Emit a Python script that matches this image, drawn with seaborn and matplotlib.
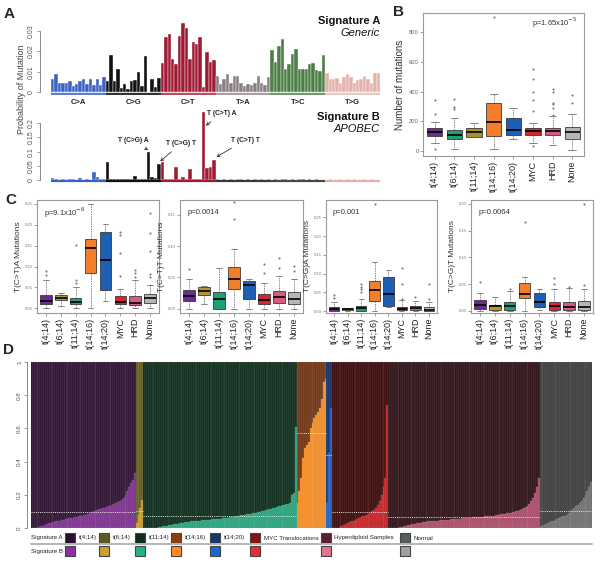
import numpy as np
import pandas as pd
import matplotlib
matplotlib.use("Agg")
import matplotlib.pyplot as plt
import seaborn as sns
from matplotlib.patches import Rectangle

# ---------------- Panel A data ----------------
MUT_CLASSES = ["C>A", "C>G", "C>T", "T>A", "T>C", "T>G"]
MUT_COLORS = ["#3a62c4", "#111111", "#9e1b32", "#8a7e84", "#4b7d46", "#e3b2aa"]
STRIP_B_COLORS = ["#3a62c4", "#111111", "#9e1b32", "#3a3a3a", "#454a45", "#e3b2aa"]

SIG_A_CA = [0.0065, 0.009, 0.0045, 0.0045, 0.0045, 0.0055, 0.003, 0.004, 0.0055, 0.0065, 0.004, 0.0065, 0.0035, 0.0065, 0.0035, 0.0072]
SIG_A_CG = [0.0055, 0.018, 0.0055, 0.0113, 0.0022, 0.0037, 0.0015, 0.0056, 0.006, 0.0097, 0.003, 0.0178, 0.0002, 0.0062, 0.0026, 0.007]
SIG_A_CT = [0.0145, 0.0272, 0.0285, 0.0163, 0.014, 0.0275, 0.034, 0.0318, 0.0163, 0.0248, 0.0235, 0.0272, 0.0025, 0.0196, 0.015, 0.0158]
SIG_A_TA = [0.0077, 0.004, 0.0064, 0.009, 0.0044, 0.0077, 0.0077, 0.0044, 0.0028, 0.004, 0.0036, 0.0044, 0.0077, 0.0044, 0.0036, 0.0073]
SIG_A_TC = [0.0207, 0.015, 0.0227, 0.026, 0.0113, 0.0139, 0.0188, 0.0212, 0.0113, 0.0113, 0.0113, 0.0137, 0.0142, 0.011, 0.0104, 0.0183]
SIG_A_TG = [0.0093, 0.0065, 0.0065, 0.0068, 0.0044, 0.0072, 0.009, 0.0073, 0.0044, 0.006, 0.0065, 0.0077, 0.0065, 0.0044, 0.0093, 0.0093]

SIG_B_CA = [0.006, 0.002, 0.001, 0.002, 0.001, 0.002, 0.003, 0.001, 0.007, 0.001, 0.002, 0.001, 0.027, 0.012, 0.004, 0.005]
SIG_B_CG = [0.062, 0.003, 0.002, 0.004, 0.005, 0.004, 0.002, 0.002, 0.013, 0.004, 0.003, 0.002, 0.1, 0.01, 0.008, 0.058]
SIG_B_CT = [0.065, 0.005, 0.003, 0.005, 0.047, 0.004, 0.012, 0.004, 0.038, 0.003, 0.002, 0.004, 0.24, 0.042, 0.045, 0.07]
SIG_B_TA = [0.002, 0.001, 0.003, 0.001, 0.002, 0.001, 0.002, 0.003, 0.001, 0.002, 0.001, 0.002, 0.001, 0.003, 0.001, 0.002]
SIG_B_TC = [0.001, 0.002, 0.001, 0.003, 0.002, 0.001, 0.002, 0.001, 0.002, 0.003, 0.001, 0.002, 0.001, 0.002, 0.001, 0.001]
SIG_B_TG = [0.001, 0.002, 0.001, 0.001, 0.002, 0.001, 0.003, 0.001, 0.002, 0.001, 0.001, 0.002, 0.001, 0.003, 0.001, 0.001]

# annotations: (label, class, index within class)
SIG_B_NOTES = [("T (C>G) A", "C>G", 12), ("T (C>G) T", "C>G", 15),
               ("T (C>T) A", "C>T", 12), ("T (C>T) T", "C>T", 15)]

# ---------------- Panel B / C data ----------------
GROUPS = ["t(4;14)", "t(6;14)", "t(11;14)", "t(14;16)", "t(14;20)", "MYC", "HRD", "None"]
C_COLORS = ["#6a2c8e", "#b8962e", "#1f9e78", "#f47f2a", "#1c5fb5", "#d9262e", "#d65c7e", "#b5b5b5"]
B_COLORS = ["#6a2c8e", "#1f9e78", "#a8902e", "#f47f2a", "#1c5fb5", "#d9262e", "#d65c7e", "#b5b5b5"]

# box values: [lower whisker, q1, median, q3, upper whisker]; outliers separate
B_BOX = {"t(4;14)": [50, 99, 124, 151, 192], "t(6;14)": [9, 79, 106, 140, 221],
         "t(11;14)": [90, 95, 126, 153, 185], "t(14;16)": [9, 99, 194, 320, 381],
         "t(14;20)": [83, 106, 140, 219, 286], "MYC": [56, 110, 133, 151, 185],
         "HRD": [38, 106, 133, 155, 234], "None": [5, 83, 124, 162, 248]}
B_OUT = {"t(4;14)": [9, 248, 343], "t(6;14)": [279, 293, 347], "t(11;14)": [],
         "t(14;16)": [901], "t(14;20)": [], "MYC": [34, 270, 343, 394, 485, 552],
         "HRD": [241, 286, 315, 320, 399, 415], "None": [322, 378]}

C1_BOX = {"t(4;14)": [0, 0.0096, 0.018, 0.032, 0.068], "t(6;14)": [0.006, 0.02, 0.026, 0.032, 0.036],
          "t(11;14)": [0, 0.010, 0.016, 0.026, 0.05], "t(14;16)": [0, 0.084, 0.144, 0.166, 0.25],
          "t(14;20)": [0.018, 0.044, 0.116, 0.182, 0.202], "MYC": [0, 0.0096, 0.016, 0.029, 0.046],
          "HRD": [0, 0.008, 0.014, 0.029, 0.068], "None": [0, 0.012, 0.025, 0.034, 0.055]}
C1_OUT = {"t(4;14)": [0.08, 0.09], "t(6;14)": [], "t(11;14)": [0.06, 0.068, 0.152],
          "t(14;16)": [], "t(14;20)": [], "MYC": [0.078, 0.132, 0.176, 0.182],
          "HRD": [0.076, 0.084, 0.092], "None": [0.076, 0.082, 0.136, 0.18, 0.228]}

C2_BOX = {"t(4;14)": [0, 0.0118, 0.02, 0.0296, 0.048], "t(6;14)": [0.008, 0.0215, 0.028, 0.034, 0.036],
          "t(11;14)": [0, 0.0, 0.015, 0.027, 0.0645], "t(14;16)": [0, 0.032, 0.048, 0.066, 0.095],
          "t(14;20)": [0, 0.015, 0.0377, 0.044, 0.047], "MYC": [0, 0.008, 0.0145, 0.024, 0.041],
          "HRD": [0, 0.009, 0.019, 0.028, 0.052], "None": [0, 0.008, 0.015, 0.026, 0.047]}
C2_OUT = {"t(4;14)": [0.063], "t(6;14)": [], "t(11;14)": [], "t(14;16)": [0.1436, 0.17],
          "t(14;20)": [], "MYC": [0.0565, 0.071], "HRD": [0.0645, 0.081], "None": [0.06, 0.068]}

C3_BOX = {"t(4;14)": [0, 0.001, 0.0064, 0.012, 0.025], "t(6;14)": [0, 0.003, 0.0046, 0.008, 0.009],
          "t(11;14)": [0, 0.0, 0.0073, 0.013, 0.032], "t(14;16)": [0, 0.0257, 0.055, 0.08, 0.131],
          "t(14;20)": [0.012, 0.0138, 0.046, 0.091, 0.11], "MYC": [0, 0.002, 0.0064, 0.011, 0.03],
          "HRD": [0, 0.002, 0.0073, 0.0138, 0.0266], "None": [0, 0.0, 0.002, 0.01, 0.023]}
C3_OUT = {"t(4;14)": [0.035, 0.043], "t(6;14)": [], "t(11;14)": [0.05, 0.058, 0.065, 0.073],
          "t(14;16)": [0.286], "t(14;20)": [], "MYC": [0.032, 0.0715, 0.115],
          "HRD": [0.0367], "None": [0.032, 0.073]}

C4_BOX = {"t(4;14)": [0, 0.0032, 0.011, 0.0199, 0.034], "t(6;14)": [0, 0.0013, 0.0096, 0.0115, 0.026],
          "t(11;14)": [0, 0.0013, 0.0096, 0.016, 0.0365], "t(14;16)": [0, 0.0237, 0.032, 0.0526, 0.064],
          "t(14;20)": [0.0013, 0.0064, 0.016, 0.034, 0.0417], "MYC": [0, 0.0013, 0.0083, 0.0173, 0.04],
          "HRD": [0, 0.002, 0.0077, 0.016, 0.0436], "None": [0, 0.0013, 0.0077, 0.018, 0.04]}
C4_OUT = {"t(4;14)": [0.0545], "t(6;14)": [], "t(11;14)": [0.04], "t(14;16)": [0.1667],
          "t(14;20)": [], "MYC": [0.05, 0.061], "HRD": [0.045], "None": [0.048, 0.2]}

C_LABELS = ["T(C>T)A Mutations", "T(C>T)T Mutations", "T(C>G)A Mutations", "T(C>G)T Mutations"]
C_PVALS = [r"p=9.1x10$^{-6}$", "p=0.0014", "p=0.001", "p=0.0064"]
C_TICKS = [[0, 0.05, 0.10, 0.15, 0.20, 0.25], [0, 0.05, 0.10, 0.15],
           [0, 0.05, 0.10, 0.15, 0.20, 0.25], [0, 0.05, 0.10, 0.15, 0.20]]
C_YLIMS = [(-0.011, 0.259), (-0.007, 0.174), (-0.005, 0.296), (-0.004, 0.207)]

# ---------------- Panel D data ----------------
D_GROUPS = ["t(4;14)", "t(6;14)", "t(11;14)", "t(14;16)", "t(14;20)", "MYC", "HRD", "Normal"]
D_LEG_LABELS = ["t(4;14)", "t(6;14)", "t(11;14)", "t(14;16)", "t(14;20)",
                "MYC Translocations", "Hyperdiploid Samples", "Normal"]
D_DARK = ["#2d1030", "#5e5a1c", "#0b2a19", "#6e3310", "#0f2f66", "#3a0707", "#2c0f14", "#3b3b3b"]
D_LIGHT = ["#7b2f8c", "#c59a2a", "#25a07a", "#f08a22", "#1d5fc4", "#c41f24", "#a84a68", "#6e6e6e"]
LEG_A = ["#2a0f2e", "#5b5b20", "#0e2e1c", "#8a4012", "#17366a", "#8b0f14", "#5a2030", "#555f5a"]
LEG_B = ["#8e2ea5", "#c9a12d", "#1fb386", "#ff8a2a", "#1b66d6", "#e82c2c", "#e8718e", "#a0a0a0"]

D_B_T414 = [0.0, 0.0, 0.0, 0.0, 0.005, 0.01, 0.015, 0.02, 0.025, 0.03, 0.032, 0.035, 0.038, 0.04,
            0.043, 0.045, 0.048, 0.05, 0.052, 0.055, 0.058, 0.06, 0.062, 0.065, 0.068, 0.07, 0.072,
            0.075, 0.078, 0.08, 0.085, 0.09, 0.095, 0.1, 0.105, 0.11, 0.112, 0.115, 0.118, 0.12,
            0.125, 0.13, 0.135, 0.14, 0.145, 0.15, 0.155, 0.16, 0.17, 0.18, 0.2, 0.22, 0.25, 0.27,
            0.29, 0.33]
D_B_T614 = [0.03, 0.08, 0.12, 0.17]
D_B_T1114 = [0.0, 0.0, 0.0, 0.0, 0.0, 0.0, 0.0, 0.0,
             0.005, 0.008, 0.01, 0.012, 0.014, 0.016, 0.018, 0.02, 0.022, 0.024,
             0.026, 0.028, 0.03, 0.032, 0.034, 0.036, 0.038, 0.04, 0.041, 0.042,
             0.043, 0.044, 0.045, 0.046, 0.047, 0.048, 0.05, 0.051, 0.052, 0.053,
             0.054, 0.055, 0.056, 0.057, 0.058, 0.06, 0.061, 0.062, 0.064, 0.066,
             0.068, 0.07, 0.072, 0.074, 0.076, 0.078, 0.08, 0.082, 0.084, 0.086,
             0.088, 0.09, 0.092, 0.095, 0.098, 0.1, 0.103, 0.106, 0.11, 0.113,
             0.116, 0.12, 0.123, 0.126, 0.13, 0.133, 0.136, 0.14, 0.143, 0.146,
             0.15, 0.2, 0.21, 0.61]
D_B_T1416 = [0.15, 0.22, 0.3, 0.42, 0.48, 0.5, 0.52, 0.6, 0.63, 0.66, 0.68, 0.7, 0.72, 0.78, 0.88, 0.9]
D_B_T1420 = [0.15, 0.45, 0.72]
D_B_MYC = [0.0, 0.0, 0.0, 0.0, 0.01, 0.015, 0.02, 0.025, 0.03, 0.035, 0.04, 0.045, 0.05, 0.055,
           0.06, 0.065, 0.07, 0.075, 0.08, 0.085, 0.09, 0.1, 0.11, 0.12, 0.14, 0.16, 0.2, 0.25,
           0.3, 0.74]
D_B_HRD = [0.0, 0.0, 0.0, 0.0, 0.0, 0.0,
           0.004, 0.008, 0.011, 0.014, 0.017, 0.02, 0.022, 0.024, 0.026, 0.028,
           0.03, 0.032, 0.034, 0.036, 0.038, 0.04, 0.041, 0.042, 0.043, 0.044,
           0.045, 0.046, 0.047, 0.048, 0.049, 0.05, 0.051, 0.052, 0.053, 0.054,
           0.055, 0.056, 0.057, 0.058, 0.059, 0.06, 0.061, 0.062, 0.063, 0.064,
           0.065, 0.066, 0.067, 0.068, 0.069, 0.07, 0.071, 0.072, 0.073, 0.074,
           0.075, 0.076, 0.078, 0.08, 0.082, 0.084, 0.086, 0.088, 0.09, 0.092,
           0.095, 0.098, 0.1, 0.104, 0.108, 0.112, 0.118, 0.125, 0.135, 0.145,
           0.16, 0.18, 0.21, 0.25, 0.3]
D_B_NORMAL = [0.01, 0.015, 0.02, 0.025, 0.03, 0.035, 0.04, 0.045, 0.05, 0.055, 0.06, 0.065, 0.07,
              0.075, 0.08, 0.09, 0.1, 0.11, 0.12, 0.13, 0.14, 0.15, 0.16, 0.18, 0.2, 0.22, 0.25, 0.28]

# ---------------- style ----------------
sns.set_style("white")
plt.rcParams["font.family"] = ["Liberation Sans", "DejaVu Sans"]
plt.rcParams["axes.linewidth"] = 0.6

W, H = 600, 568
fig = plt.figure(figsize=(6, 5.68), dpi=100)


def px_rect(x0, y0, x1, y1):
    return [x0 / W, 1 - y1 / H, (x1 - x0) / W, (y1 - y0) / H]


# ---------------- Panel A ----------------
def sig_panel(rect, groups_vals, ylim, ticks, ticklabels, strip_colors, strip_y, strip_lw):
    ax = fig.add_axes(px_rect(*rect))
    vals = [v for g in groups_vals for v in g]
    df = pd.DataFrame({"pos": np.arange(len(vals)), "val": vals,
                       "cls": np.repeat(MUT_CLASSES, 16)})
    sns.barplot(data=df, x="pos", y="val", hue="cls", hue_order=MUT_CLASSES,
                palette=dict(zip(MUT_CLASSES, MUT_COLORS)), dodge=False, width=1.0,
                edgecolor="white", linewidth=0.28, saturation=1, errorbar=None,
                legend=False, ax=ax)
    for i, c in enumerate(strip_colors):
        ax.hlines(strip_y, i * 16 - 0.5, i * 16 + 15.5, colors=c, lw=strip_lw)
    ax.set_xlim(-0.5, 95.5)
    ax.set_ylim(*ylim)
    for s in ["top", "right", "bottom"]:
        ax.spines[s].set_visible(False)
    ax.spines["left"].set_position(("outward", 8))
    ax.spines["left"].set_bounds(ticks[0], ticks[-1])
    ax.spines["left"].set_color("#777777")
    ax.set_xticks([])
    ax.set_yticks(ticks)
    ax.set_yticklabels(ticklabels, rotation=90, va="center", fontsize=5, color="#555555")
    ax.tick_params(axis="y", length=2, width=0.5, color="#777777", pad=1.5, left=True)
    ax.set_xlabel("")
    ax.set_ylabel("")
    return ax


axA1 = sig_panel((51, 19, 380, 95), [SIG_A_CA, SIG_A_CG, SIG_A_CT, SIG_A_TA, SIG_A_TC, SIG_A_TG],
                 (-0.0015, 0.036), [0, 0.01, 0.02, 0.03], ["0", "0.01", "0.02", "0.03"],
                 ["#5b7fd0", "#333333", "#c24a5e", "#a89ea3", "#6f9a6a", "#ecc6c0"], -0.0008, 1.7)
for i, cls in enumerate(MUT_CLASSES):
    axA1.text(i * 16 + 7.5, -0.1, cls, transform=axA1.get_xaxis_transform(),
              ha="center", va="center", fontsize=5.5, fontweight="bold", color="#222222")
axA1.text(1.0, 0.98, "Signature A", transform=axA1.transAxes, ha="right", va="center",
          fontsize=8, fontweight="bold", color="#111111")
axA1.text(1.0, 0.82, "Generic", transform=axA1.transAxes, ha="right", va="center",
          fontsize=8, style="italic", color="#111111")

axA2 = sig_panel((51, 108, 380, 183), [SIG_B_CA, SIG_B_CG, SIG_B_CT, SIG_B_TA, SIG_B_TC, SIG_B_TG],
                 (-0.0106, 0.254), [0, 0.05, 0.1, 0.15, 0.2], ["0", "0.05", "0.1", "0.15", "0.2"],
                 STRIP_B_COLORS, -0.0045, 1.6)
axA2.text(1.0, 0.88, "Signature B", transform=axA2.transAxes, ha="right", va="center",
          fontsize=8, fontweight="bold", color="#111111")
axA2.text(1.0, 0.72, "APOBEC", transform=axA2.transAxes, ha="right", va="center",
          fontsize=8, style="italic", color="#111111")
note_text_pos = {"T (C>G) A": (23.4, 0.141, 28.0, 0.104),
                 "T (C>G) T": (37.5, 0.13, 31.2, 0.064),
                 "T (C>T) A": (49.3, 0.236, 44.5, 0.19),
                 "T (C>T) T": (56.2, 0.141, 47.6, 0.08)}
for lab, cls, idx in SIG_B_NOTES:
    tx, ty, ax_, ay_ = note_text_pos[lab]
    axA2.annotate(lab, xy=(ax_, ay_), xytext=(tx, ty), ha="center", va="center",
                  fontsize=4.8, fontweight="bold", color="#222222",
                  arrowprops=dict(arrowstyle="->", lw=0.6, color="#333333",
                                  shrinkA=2, shrinkB=0.5))
fig.text(21 / W, 1 - 89 / H, "Probability of Mutation", rotation=90, ha="center", va="center",
         fontsize=6.5, color="#444444")


# ---------------- Box plot helper ----------------
def box_panel(rect, box, out, colors, ylim):
    ax = fig.add_axes(px_rect(*rect))
    df = pd.DataFrame([(g, v) for g in GROUPS for v in box[g]], columns=["group", "value"])
    sns.boxplot(data=df, x="group", y="value", hue="group", order=GROUPS, hue_order=GROUPS,
                palette=dict(zip(GROUPS, colors)), whis=(0, 100), width=0.78, saturation=1,
                linewidth=0.6, linecolor="#3a3a3a", showfliers=False, legend=False, ax=ax,
                medianprops=dict(color="black", linewidth=1.2),
                whiskerprops=dict(linestyle=(0, (2, 1.5)), color="#555555", linewidth=0.5),
                capprops=dict(color="#555555", linewidth=0.5))
    od = pd.DataFrame([(g, v) for g in GROUPS for v in out[g]], columns=["group", "value"])
    sns.stripplot(data=od, x="group", y="value", order=GROUPS, jitter=False,
                  color="#777777", size=1.5, ax=ax)
    ax.set_ylim(*ylim)
    ax.set_xlim(-0.6, 7.6)
    for s in ax.spines.values():
        s.set_visible(True)
        s.set_color("#9a9a9a")
        s.set_linewidth(0.8)
    ax.set_xlabel("")
    ax.set_xticks(range(len(GROUPS)))
    ax.set_xticklabels(GROUPS, rotation=90, fontsize=6.5, color="#222222")
    ax.tick_params(axis="x", length=2, width=0.5, color="#777777", pad=1.5, bottom=True)
    ax.tick_params(axis="y", length=2, width=0.5, color="#777777", pad=1, left=True)
    return ax


# ---------------- Panel B ----------------
axB = box_panel((423, 13, 584, 156), B_BOX, B_OUT, B_COLORS, (-35, 930))
axB.set_yticks([0, 200, 400, 600, 800])
axB.set_yticklabels(["0", "200", "400", "600", "800"], fontsize=4.2, color="#666666")
axB.set_ylabel("Number of mutations", fontsize=7, color="#333333", labelpad=3)
axB.text(0.82, 0.93, r"p=1.65x10$^{-5}$", transform=axB.transAxes, ha="center", va="center",
         fontsize=5.5, color="#333333")

# ---------------- Panel C ----------------
C_RECTS = [(37, 200, 159, 313), (180, 200, 303, 313), (326, 200, 437, 313), (471, 200, 593, 313)]
C_DATA = [(C1_BOX, C1_OUT), (C2_BOX, C2_OUT), (C3_BOX, C3_OUT), (C4_BOX, C4_OUT)]
for rect, (bx, ot), lab, pv, tks, yl in zip(C_RECTS, C_DATA, C_LABELS, C_PVALS, C_TICKS, C_YLIMS):
    ax = box_panel(rect, bx, ot, C_COLORS, yl)
    ax.set_yticks(tks)
    ax.set_yticklabels([f"{t:.2f}" for t in tks], fontsize=3, color="#777777")
    ax.set_ylabel(lab, fontsize=6, color="#333333", labelpad=2)
    ax.text(0.06, 0.89, pv, transform=ax.transAxes, ha="left", va="center",
            fontsize=5.5, color="#333333")

# ---------------- Panel D ----------------
d_vals = [D_B_T414, D_B_T614, D_B_T1114, D_B_T1416, D_B_T1420, D_B_MYC, D_B_HRD, D_B_NORMAL]
rows = []
pos = 0
for g, vals in zip(D_GROUPS, d_vals):
    for v in vals:
        rows.append((pos, g, v, 1.0))
        pos += 1
dfd = pd.DataFrame(rows, columns=["pos", "group", "b", "total"])
axD = fig.add_axes(px_rect(31, 362, 592, 528))
sns.barplot(data=dfd, x="pos", y="total", hue="group", hue_order=D_GROUPS,
            palette=dict(zip(D_GROUPS, D_DARK)), dodge=False, width=1.0, saturation=1,
            edgecolor=(1, 1, 1, 0.22), linewidth=0.3, errorbar=None, legend=False, ax=axD)
sns.barplot(data=dfd, x="pos", y="b", hue="group", hue_order=D_GROUPS,
            palette=dict(zip(D_GROUPS, D_LIGHT)), dodge=False, width=1.0, saturation=1,
            edgecolor=(1, 1, 1, 0.22), linewidth=0.3, errorbar=None, legend=False, ax=axD)
start = 0
for g, vals in zip(D_GROUPS, d_vals):
    axD.hlines(np.mean(vals), start - 0.5, start + len(vals) - 0.5, colors="#e8e8e8",
               linestyles=(0, (1, 1.2)), lw=0.7)
    start += len(vals)
axD.set_xlim(-0.5, len(dfd) - 0.5)
axD.set_ylim(0, 1)
for s in ["top", "right", "bottom"]:
    axD.spines[s].set_visible(False)
axD.spines["left"].set_position(("outward", 3))
axD.spines["left"].set_color("#777777")
axD.set_xticks([])
axD.set_yticks([0, 0.2, 0.4, 0.6, 0.8, 1])
axD.set_yticklabels(["0", "0.2", "0.4", "0.6", "0.8", "1"], rotation=90, va="center",
                    fontsize=4.5, color="#555555")
axD.tick_params(axis="y", length=2, width=0.5, color="#777777", pad=1.5, left=True)
axD.set_xlabel("")
axD.set_ylabel("")

# legend for D
axL = fig.add_axes(px_rect(0, 528, 600, 568))
axL.set_xlim(0, 600)
axL.set_ylim(568, 528)
axL.axis("off")
LEG_X = [65, 99, 135, 171, 210, 250, 321, 400]
axL.plot([31, 592], [543.5, 543.5], color="#b5b5b5", lw=1.4)
axL.text(31, 538, "Signature A", fontsize=4.4, va="center", ha="left", color="#222222")
axL.text(31, 551, "Signature B", fontsize=4.4, va="center", ha="left", color="#222222")
for x, la, ca, cb in zip(LEG_X, D_LEG_LABELS, LEG_A, LEG_B):
    axL.add_patch(Rectangle((x, 533), 10, 10, facecolor=ca, edgecolor="#444444", lw=0.8))
    axL.add_patch(Rectangle((x, 546), 10, 10, facecolor=cb, edgecolor="#444444", lw=0.8))
    axL.text(x + 13.5, 538, la, fontsize=4.4, va="center", ha="left", color="#222222")

# panel letters
for lab, x, y in [("A", 9, 14), ("B", 399, 12), ("C", 11, 200), ("D", 8, 350)]:
    fig.text(x / W, 1 - y / H, lab, fontsize=11, fontweight="bold", ha="center", va="center")

fig.savefig("out.png", dpi=100, facecolor="white")
